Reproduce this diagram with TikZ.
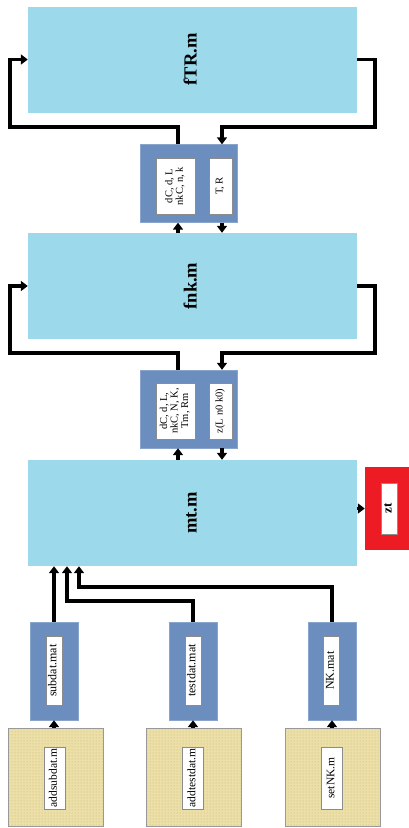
\documentclass[tikz,border=0pt]{standalone}
\usepackage{fontspec}
\setmainfont{Liberation Serif}
\usepackage{graphicx}
\usetikzlibrary{arrows.meta,patterns}
\definecolor{mfile}{RGB}{156,217,234}
\definecolor{iface}{RGB}{108,142,191}
\definecolor{outred}{RGB}{237,28,36}
\definecolor{srcfill}{RGB}{236,224,168}
\definecolor{srcdot}{RGB}{196,180,118}
\newcommand{\vlbl}[1]{\rotatebox{90}{\begin{tabular}{@{}c@{}}#1\end{tabular}}}
\tikzset{
  mbox/.style={fill=mfile, inner sep=0pt, minimum width=329pt, minimum height=106pt,
               font=\fontsize{18.5}{20}\selectfont\bfseries},
  ifbox/.style={fill=iface, draw=iface!80!white, inner sep=0pt, minimum width=97pt,
                minimum height=78pt},
  inbox/.style={fill=white, draw=black!45, thin, inner sep=0pt,
                font=\fontsize{10.5}{10.5}\selectfont},
  matbox/.style={ifbox, minimum width=48pt, minimum height=98pt},
  srcbox/.style={draw=black!40, preaction={fill=srcfill}, pattern=dots,
                 pattern color=srcdot, inner sep=0pt, minimum width=95pt, minimum height=98pt},
  outbox/.style={fill=outred, inner sep=0pt, minimum width=44pt, minimum height=83pt},
  flow/.style={line width=3.5pt, black},
  arr/.style={flow, -{Triangle[length=7pt,width=10pt]}}
}

\begin{document}
\begin{tikzpicture}[x=1pt, y=-1pt]
\useasboundingbox (0,0) rectangle (409,828);
% program files
\node[mbox] (ftr) at (192.5,59.5) {\vlbl{fTR.m}};
\node[mbox] (fnk) at (192.5,286) {\vlbl{fnk.m}};
\node[mbox] (mt) at (192.5,513) {\vlbl{mt.m}};
% interfaces
\node[ifbox] (ifa) at (188.5,183.5) {};
\node[inbox, minimum width=39pt, minimum height=56pt] (ifaup) at (175.5,186) {\vlbl{dC, d, L\\nkC, n, k}};
\node[inbox, minimum width=23pt, minimum height=56pt] (ifadown) at (220.5,186) {\vlbl{T, R}};
\node[ifbox] (ifb) at (188.5,409) {};
\node[inbox, minimum width=39pt, minimum height=56pt] (ifbup) at (175.5,411) {\vlbl{dC, d, L,\\nkC, N, K,\\Tm, Rm}};
\node[inbox, minimum width=23pt, minimum height=56pt] (ifbdown) at (220.5,411) {\vlbl{z(L n0 k0)}};
% output
\node[outbox] (zt) at (387,508.5) {};
\node[inbox, minimum width=16pt, minimum height=51pt, font=\fontsize{13}{13}\selectfont\bfseries] (ztlbl) at (389,508.5) {\vlbl{zt}};
% data files
\node[matbox] (subdat) at (54,671) {};
\node[matbox] (testdat) at (193,671) {};
\node[matbox] (nkmat) at (332,671) {};
\node[inbox, minimum width=16pt, minimum height=69pt, font=\fontsize{12}{12}\selectfont] (subdatlbl) at (54,670.5) {\vlbl{subdat.mat}};
\node[inbox, minimum width=16pt, minimum height=69pt, font=\fontsize{12}{12}\selectfont] (testdatlbl) at (193,670.5) {\vlbl{testdat.mat}};
\node[inbox, minimum width=16pt, minimum height=69pt, font=\fontsize{12}{12}\selectfont] (nkmatlbl) at (331.5,670.5) {\vlbl{NK.mat}};
% generators
\node[srcbox] (addsub) at (55.5,777) {};
\node[srcbox] (addtest) at (194,777) {};
\node[srcbox] (setnk) at (333,777) {};
\node[inbox, minimum width=21pt, minimum height=62pt, font=\fontsize{11.5}{11.5}\selectfont] (addsublbl) at (54.5,778) {\vlbl{addsubdat.m}};
\node[inbox, minimum width=21pt, minimum height=62pt, font=\fontsize{11.5}{11.5}\selectfont] (addtestlbl) at (193,778) {\vlbl{addtestdat.m}};
\node[inbox, minimum width=21pt, minimum height=62pt, font=\fontsize{11.5}{11.5}\selectfont] (setnklbl) at (332,778) {\vlbl{setNK.m}};

% connectors
\coordinate (lx) at (178,0);
\coordinate (rx) at (222,0);
\coordinate (ftrL) at (10,127);
\coordinate (ftrR) at (375,127);
\coordinate (fnkL) at (10,353);
\coordinate (fnkR) at (375,353);
\coordinate (testJ) at (67,601);
\coordinate (nkJ) at (79,587);

\draw[arr] (ifa.north -| lx) |- (ftrL) |- (ftr.west);
\draw[arr] (ftr.east) -| (ftrR) -| (ifa.north -| rx);
\draw[arr] (fnk.north -| lx) -- (ifa.south -| lx);
\draw[arr] (ifa.south -| rx) -- (fnk.north -| rx);

\draw[arr] (ifb.north -| lx) |- (fnkL) |- (fnk.west);
\draw[arr] (fnk.east) -| (fnkR) -| (ifb.north -| rx);
\draw[arr] (mt.north -| lx) -- (ifb.south -| lx);
\draw[arr] (ifb.south -| rx) -- (mt.north -| rx);

\draw[arr] (mt.east |- zt.west) -- (zt.west);

\draw[arr] (subdat.north) -- (mt.south -| subdat.north);
\draw[arr] (testdat.north) |- (testJ) -- (mt.south -| testJ);
\draw[arr] (nkmat.north) |- (nkJ) -- (mt.south -| nkJ);

\draw[arr] (addsub.north -| subdat.south) -- (subdat.south);
\draw[arr] (addtest.north -| testdat.south) -- (testdat.south);
\draw[arr] (setnk.north -| nkmat.south) -- (nkmat.south);
\end{tikzpicture}
\end{document}
